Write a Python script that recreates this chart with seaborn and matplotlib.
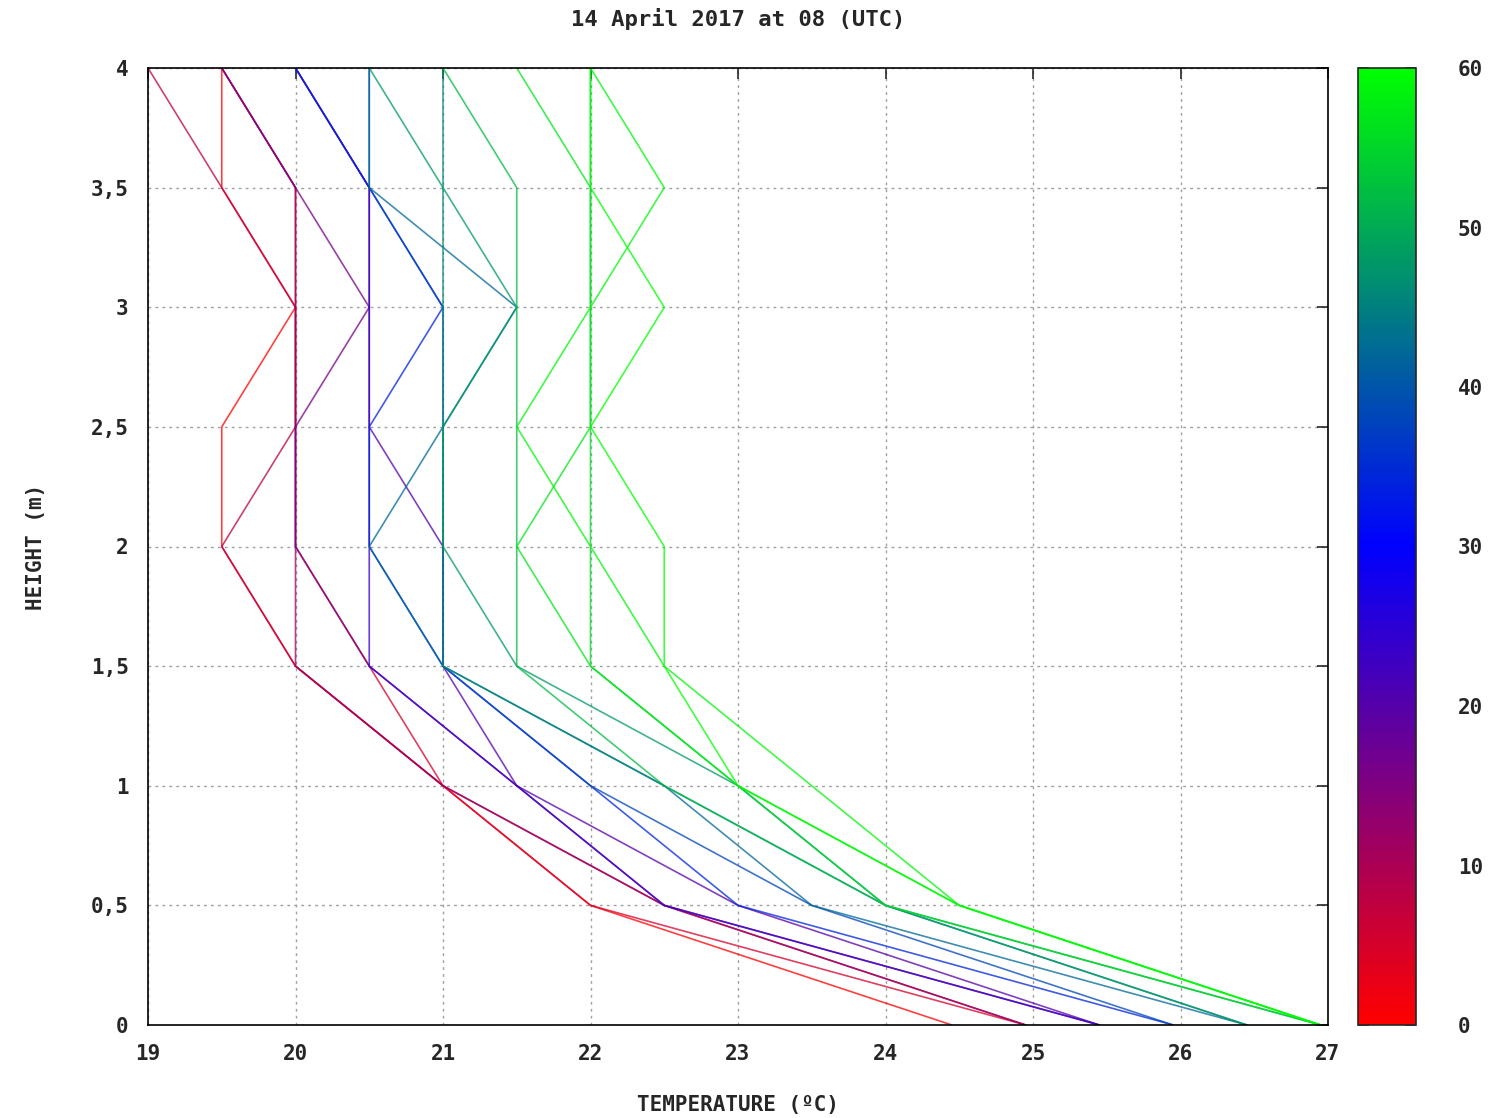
import numpy as np
import pandas as pd
import matplotlib
matplotlib.use("Agg")
import matplotlib.pyplot as plt
import seaborn as sns
from matplotlib.colors import LinearSegmentedColormap, Normalize
from matplotlib.cm import ScalarMappable

# heights of the sensors (m)
heights = [0, 0.5, 1, 1.5, 2, 2.5, 3, 3.5, 4]

# minute of each profile (colour scale 0-60)
minutes = [0, 5, 8, 12, 16, 20, 24, 34, 38, 42, 46, 48, 52, 55, 57, 59, 60]

# temperature profiles (degC), from height 0 up to 4 m
profiles = [
    [24.45, 22.0, 21.0, 20.0, 19.5, 19.5, 20.0, 19.5, 19.5],
    [24.95, 22.0, 21.0, 20.5, 20.0, 20.0, 20.0, 20.0, 19.5],
    [24.95, 22.5, 21.0, 20.0, 19.5, 20.0, 20.0, 19.5, 19.0],
    [24.95, 22.5, 21.0, 20.0, 20.0, 20.0, 20.0, 20.0, 19.5],
    [25.45, 22.5, 21.5, 20.5, 20.0, 20.0, 20.5, 20.0, 19.5],
    [25.45, 23.0, 21.5, 21.0, 21.0, 20.5, 20.5, 20.5, 20.0],
    [25.45, 22.5, 21.5, 20.5, 20.5, 20.5, 20.5, 20.5, 20.0],
    [25.95, 23.0, 22.0, 21.0, 20.5, 20.5, 21.0, 20.5, 20.0],
    [25.95, 23.5, 22.0, 21.0, 21.0, 21.0, 21.0, 20.5, 20.5],
    [26.45, 23.5, 22.5, 21.0, 20.5, 21.0, 21.5, 20.5, 20.5],
    [26.45, 24.0, 22.5, 21.0, 21.0, 21.0, 21.0, 21.0, 21.0],
    [26.45, 24.0, 23.0, 21.5, 21.0, 21.0, 21.5, 21.0, 20.5],
    [26.95, 24.0, 22.5, 21.5, 21.5, 21.5, 21.5, 21.5, 21.0],
    [26.95, 24.0, 23.0, 22.0, 22.0, 22.0, 22.0, 22.0, 22.0],
    [26.95, 24.5, 23.0, 22.0, 21.5, 22.0, 22.0, 22.0, 21.5],
    [26.95, 24.5, 23.5, 22.5, 22.0, 21.5, 22.0, 22.5, 22.0],
    [26.95, 24.5, 23.0, 22.5, 22.5, 22.0, 22.5, 22.0, 22.0],
]

x_ticks = [19, 20, 21, 22, 23, 24, 25, 26, 27]
y_ticks = [0, 0.5, 1, 1.5, 2, 2.5, 3, 3.5, 4]
y_ticklabels = ["0", "0,5", "1", "1,5", "2", "2,5", "3", "3,5", "4"]
cb_ticks = [0, 10, 20, 30, 40, 50, 60]

rows = []
for m, prof in zip(minutes, profiles):
    for h, t in zip(heights, prof):
        rows.append({"minute": m, "height": h, "temp": t})
df = pd.DataFrame(rows)

sns.set_style("white")
plt.rcParams["font.family"] = ["DejaVu Sans Mono"]
plt.rcParams["font.weight"] = "bold"

cmap = LinearSegmentedColormap.from_list("rbg", ["#ff0000", "#0000ff", "#00ff00"])
norm = Normalize(0, 60)

fig = plt.figure(figsize=(14.89, 11.18), dpi=100)
ax = fig.add_axes([148 / 1489, 1 - 1025 / 1118, 1180 / 1489, 957 / 1118])

sns.lineplot(data=df, x="temp", y="height", hue="minute", units="minute",
             estimator=None, sort=False, orient="y", palette=cmap,
             hue_norm=norm, legend=False, linewidth=1.2, alpha=0.75, ax=ax)

ax.set_xlim(19, 27)
ax.set_ylim(0, 4)
ax.set_xticks(x_ticks)
ax.set_xticklabels([str(v) for v in x_ticks], fontsize=15, fontweight="bold")
ax.set_yticks(y_ticks)
ax.set_yticklabels(y_ticklabels, fontsize=15, fontweight="bold")
ax.grid(True, color="#a0a0a0", linestyle=(0, (2, 3)), linewidth=1.0)
ax.tick_params(direction="in", length=8, width=1.2, top=True, right=True,
               labeltop=False, labelright=False, pad=14)
for sp in ax.spines.values():
    sp.set_color("black")
    sp.set_linewidth(1.2)

ax.set_xlabel("TEMPERATURE (ºC)", fontsize=15, fontweight="bold", labelpad=22)
ax.set_ylabel("HEIGHT (m)", fontsize=15, fontweight="bold", labelpad=32)
ax.set_title("14 April 2017 at 08 (UTC)", fontsize=16, fontweight="bold", pad=30)

cax = fig.add_axes([1358 / 1489, 1 - 1025 / 1118, 58 / 1489, 957 / 1118])
cb = fig.colorbar(ScalarMappable(norm=norm, cmap=cmap), cax=cax)
cb.set_ticks(cb_ticks)
cb.ax.tick_params(direction="in", length=8, width=1.2, left=True, right=True,
                  labelsize=15, pad=30)
for lab in cb.ax.get_yticklabels():
    lab.set_fontweight("bold")
cb.outline.set_linewidth(1.2)

fig.savefig("out.png", dpi=100)
